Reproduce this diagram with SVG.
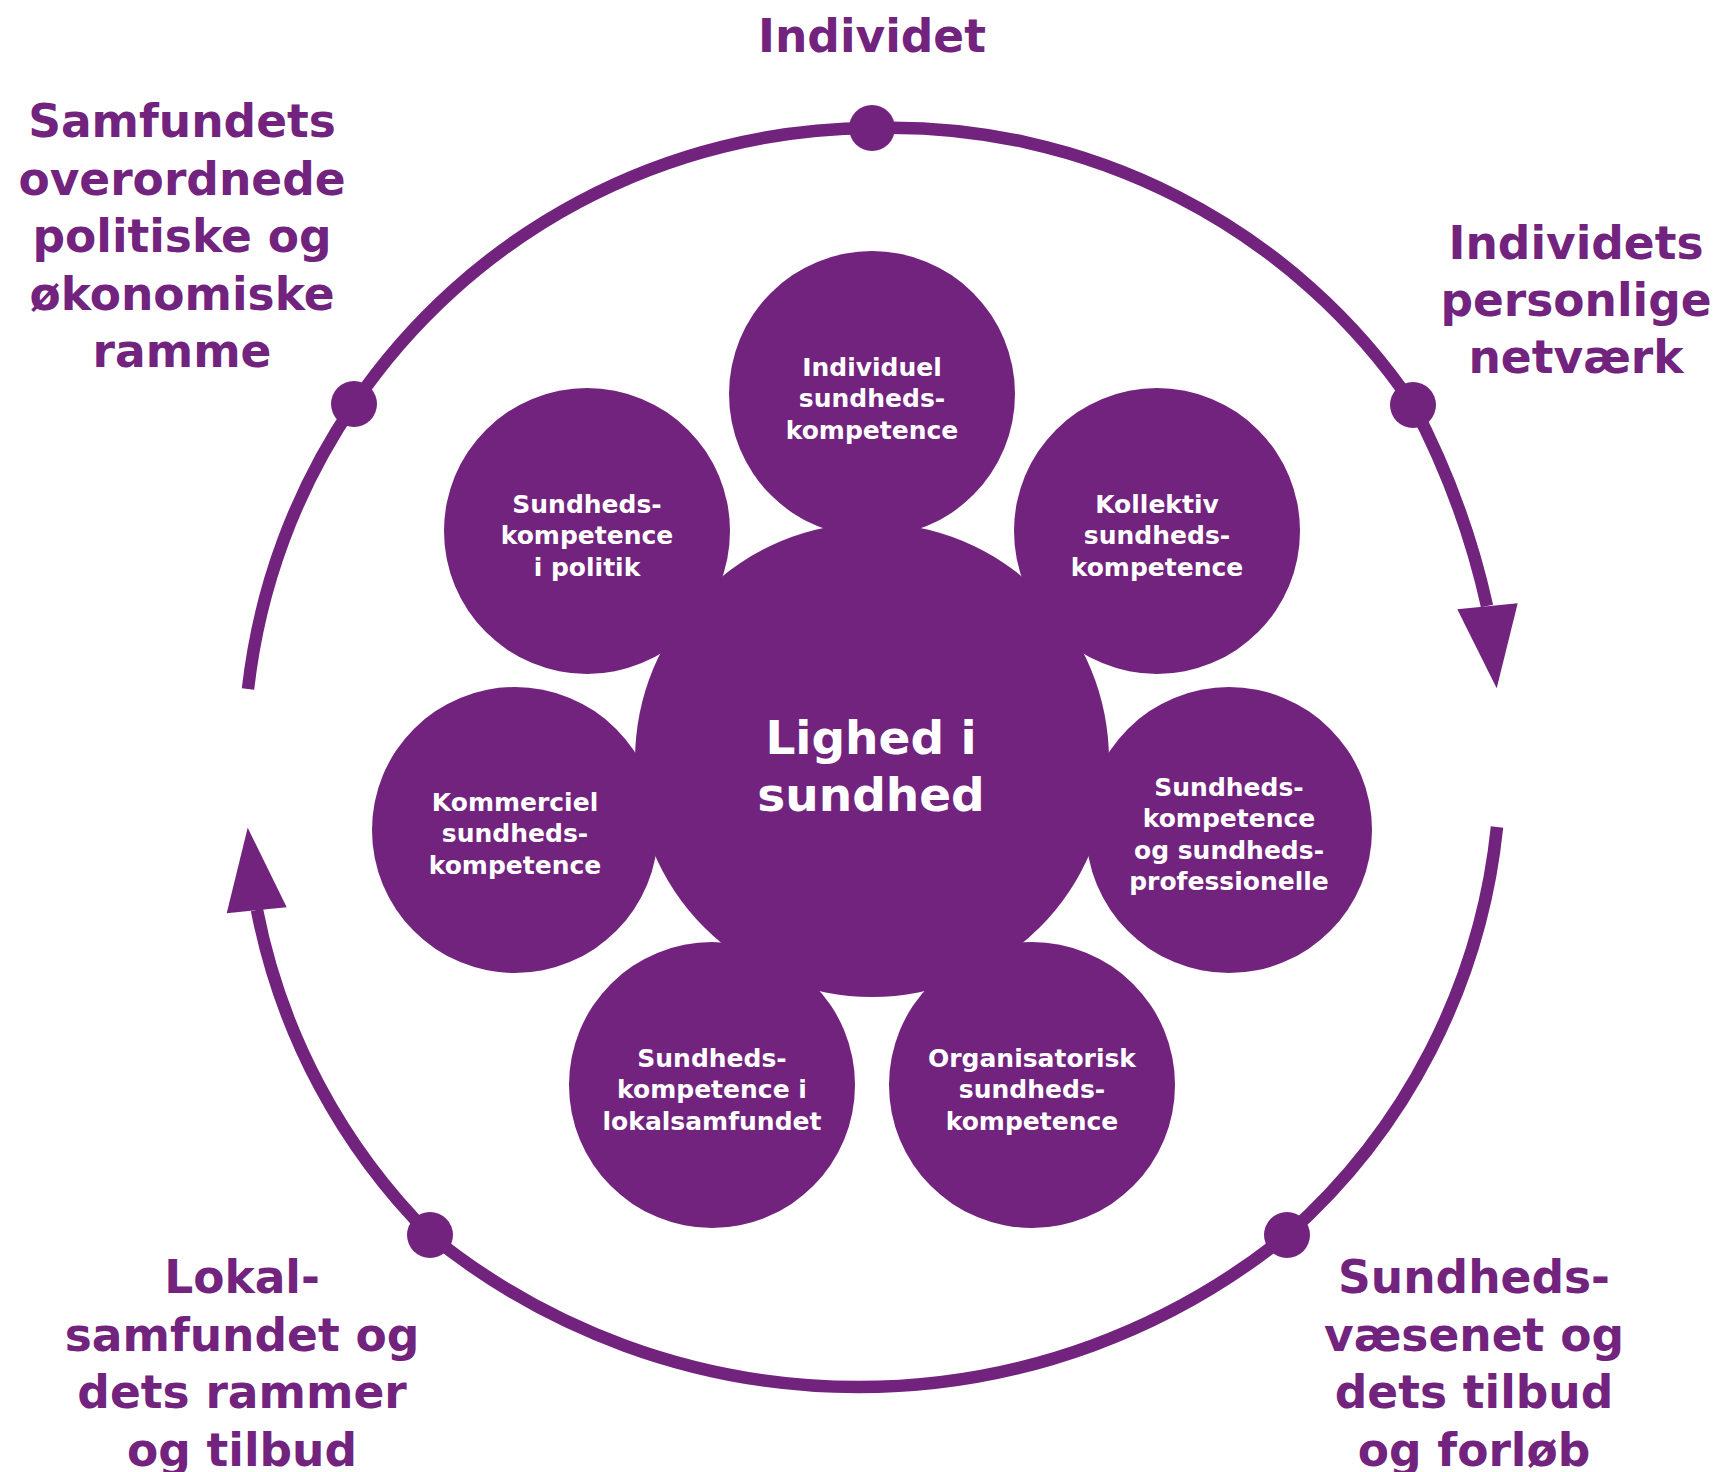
<svg xmlns="http://www.w3.org/2000/svg" width="1718" height="1472" viewBox="0 0 1718 1472">
  <style>
    .ring { fill: none; stroke: #72237e; stroke-width: 12.5; }
    .head { fill: #72237e; }
    .dot { fill: #72237e; }
    .bubble { fill: #72237e; }
    .lbl { font-family: "DejaVu Sans", "Liberation Sans", sans-serif; font-weight: bold; font-size: 45.5px; fill: #72237e; text-anchor: middle; }
    .in { font-family: "DejaVu Sans", "Liberation Sans", sans-serif; font-weight: bold; font-size: 25px; fill: #ffffff; text-anchor: middle; }
    .core { font-family: "DejaVu Sans", "Liberation Sans", sans-serif; font-weight: bold; font-size: 47px; fill: #ffffff; text-anchor: middle; }
  </style>
  <rect width="1718" height="1472" fill="#ffffff"/>

  <g id="connectors">
    <path class="ring" d="M 248 689 A 630 630 0 0 1 354 404 A 630 630 0 0 1 872 128 A 630 630 0 0 1 1413 405 A 800 800 0 0 1 1487 606"/>
    <path class="ring" d="M 1497 827 A 630 630 0 0 1 1287 1235 A 680 680 0 0 1 430 1235 A 630 630 0 0 1 257 910"/>
    <polygon class="head" points="1457.3,609.3 1517.7,603.3 1496.7,688.3"/>
    <polygon class="head" points="226.7,913.3 286.7,907.3 247.7,827.7"/>
    <circle class="dot" cx="872" cy="128" r="23"/>
    <circle class="dot" cx="1413" cy="405" r="23"/>
    <circle class="dot" cx="354" cy="404" r="23"/>
    <circle class="dot" cx="1287" cy="1235" r="23"/>
    <circle class="dot" cx="430" cy="1235" r="23"/>
  </g>

  <g id="label-individet">
    <text class="lbl" x="872" y="52">Individet</text>
  </g>
  <g id="label-samfundet">
    <text class="lbl" x="182" y="137">Samfundets</text>
    <text class="lbl" x="182" y="194.5">overordnede</text>
    <text class="lbl" x="182" y="252">politiske og</text>
    <text class="lbl" x="182" y="309.5">økonomiske</text>
    <text class="lbl" x="182" y="367">ramme</text>
  </g>
  <g id="label-netvaerk">
    <text class="lbl" x="1576" y="258.5">Individets</text>
    <text class="lbl" x="1576" y="315.5">personlige</text>
    <text class="lbl" x="1576" y="372.5">netværk</text>
  </g>
  <g id="label-lokalsamfundet">
    <text class="lbl" x="242" y="1293">Lokal-</text>
    <text class="lbl" x="242" y="1350.5">samfundet og</text>
    <text class="lbl" x="242" y="1408">dets rammer</text>
    <text class="lbl" x="242" y="1465.5">og tilbud</text>
  </g>
  <g id="label-sundhedsvaesenet">
    <text class="lbl" x="1474" y="1293">Sundheds-</text>
    <text class="lbl" x="1474" y="1350.5">væsenet og</text>
    <text class="lbl" x="1474" y="1408">dets tilbud</text>
    <text class="lbl" x="1474" y="1465.5">og forløb</text>
  </g>

  <g id="node-lighed">
    <circle class="bubble" cx="872" cy="760" r="237"/>
    <text class="core" x="871" y="753.5">Lighed i</text>
    <text class="core" x="871" y="810.5">sundhed</text>
  </g>
  <g id="node-individuel">
    <circle class="bubble" cx="872" cy="394" r="143"/>
    <text class="in" x="872" y="375.5">Individuel</text>
    <text class="in" x="872" y="407">sundheds-</text>
    <text class="in" x="872" y="438.5">kompetence</text>
  </g>
  <g id="node-kollektiv">
    <circle class="bubble" cx="1157" cy="531" r="143"/>
    <text class="in" x="1157" y="512.5">Kollektiv</text>
    <text class="in" x="1157" y="544">sundheds-</text>
    <text class="in" x="1157" y="575.5">kompetence</text>
  </g>
  <g id="node-professionelle">
    <circle class="bubble" cx="1229" cy="830" r="143"/>
    <text class="in" x="1229" y="795.5">Sundheds-</text>
    <text class="in" x="1229" y="827">kompetence</text>
    <text class="in" x="1229" y="858.5">og sundheds-</text>
    <text class="in" x="1229" y="890">professionelle</text>
  </g>
  <g id="node-organisatorisk">
    <circle class="bubble" cx="1032" cy="1085" r="143"/>
    <text class="in" x="1032" y="1066.5">Organisatorisk</text>
    <text class="in" x="1032" y="1098">sundheds-</text>
    <text class="in" x="1032" y="1129.5">kompetence</text>
  </g>
  <g id="node-lokalsamfundet">
    <circle class="bubble" cx="712" cy="1085" r="143"/>
    <text class="in" x="712" y="1066.5">Sundheds-</text>
    <text class="in" x="712" y="1098">kompetence i</text>
    <text class="in" x="712" y="1129.5">lokalsamfundet</text>
  </g>
  <g id="node-kommerciel">
    <circle class="bubble" cx="515" cy="830" r="143"/>
    <text class="in" x="515" y="810.5">Kommerciel</text>
    <text class="in" x="515" y="842">sundheds-</text>
    <text class="in" x="515" y="873.5">kompetence</text>
  </g>
  <g id="node-politik">
    <circle class="bubble" cx="587" cy="531" r="143"/>
    <text class="in" x="587" y="512.5">Sundheds-</text>
    <text class="in" x="587" y="544">kompetence</text>
    <text class="in" x="587" y="575.5">i politik</text>
  </g>
</svg>
